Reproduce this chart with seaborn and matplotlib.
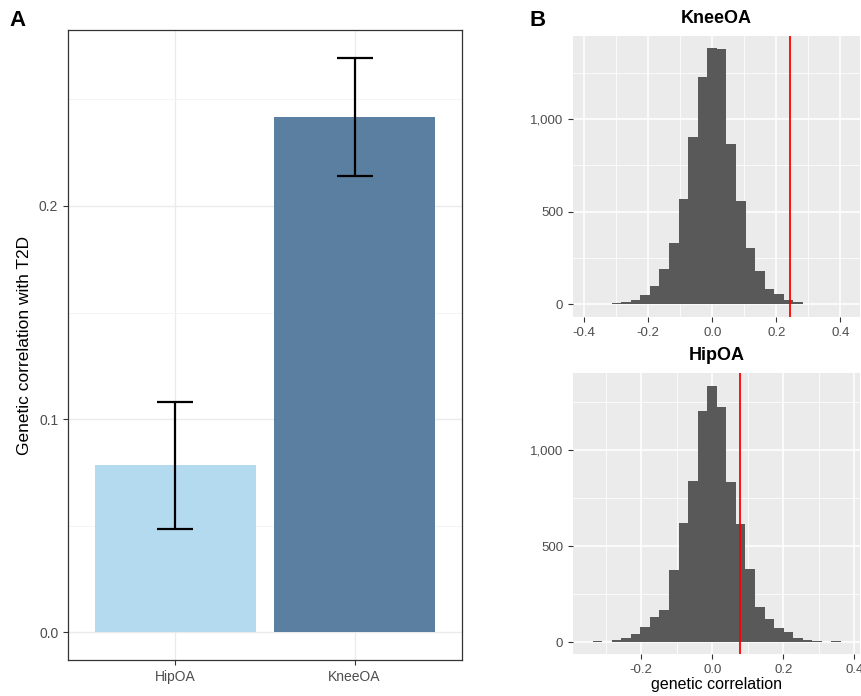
import numpy as np
import matplotlib
matplotlib.use("Agg")
import matplotlib.pyplot as plt
import seaborn as sns
import pandas as pd
from matplotlib.ticker import FuncFormatter, FixedLocator

# Panel A: genetic correlation with T2D
traits = ["HipOA", "KneeOA"]
rg = [0.0784, 0.2418]
rg_se = [0.0298, 0.0277]
bar_colors = ["#B4DAEF", "#5B7FA1"]

# Panel B: permutation null distributions (30 bins each, counts)
knee_bin_start = -0.434
knee_bin_width = 0.0299
knee_counts = [1, 1, 2, 4, 7, 12, 24, 48, 99, 190, 330, 570, 902, 1229, 1385,
               1380, 865, 558, 305, 182, 85, 58, 23, 11, 4, 2, 1, 0, 0, 1]

hip_bin_start = -0.3907
hip_bin_width = 0.0269
hip_counts = [1, 1, 3, 1, 10, 21, 43, 76, 130, 165, 375, 622, 841, 1203, 1335,
              1227, 833, 617, 379, 183, 122, 73, 52, 21, 12, 7, 2, 5, 1, 1]

plt.rcParams['font.family'] = ['Liberation Sans', 'DejaVu Sans']
plt.rcParams['axes.unicode_minus'] = False

fig = plt.figure(figsize=(8.62, 6.96), dpi=100)
axA = fig.add_axes([0.0789, 0.0517, 0.4571, 0.9052])
axK = fig.add_axes([0.6647, 0.5445, 0.3330, 0.4038])
axH = fig.add_axes([0.6647, 0.0603, 0.3330, 0.4042])

tick_col = "#4D4D4D"

# ---- A: bar chart (theme_bw look)
sns.barplot(x=traits, y=rg, hue=traits, palette=bar_colors, width=0.9,
            saturation=1, legend=False, ax=axA, zorder=2)
axA.errorbar(x=[0, 1], y=rg, yerr=rg_se, fmt='none', ecolor='black',
             elinewidth=1.6, capsize=13, capthick=1.6, zorder=3)
axA.set_xlim(-0.6, 1.6)
axA.set_ylim(-0.0131, 0.2826)
axA.set_yticks([0.0, 0.1, 0.2])
axA.set_yticklabels(["0.0", "0.1", "0.2"])
axA.yaxis.set_minor_locator(FixedLocator([0.05, 0.15, 0.25]))
axA.set_facecolor("white")
axA.grid(True, which='major', color="#EBEBEB", linewidth=1.0, zorder=0)
axA.grid(True, which='minor', axis='y', color="#F3F3F3", linewidth=0.6, zorder=0)
axA.set_axisbelow(True)
for s in axA.spines.values():
    s.set_color("#333333")
    s.set_linewidth(0.9)
axA.tick_params(axis='both', which='major', length=3.5, color="#333333",
                labelcolor=tick_col, labelsize=10)
axA.tick_params(axis='both', which='minor', length=0)
axA.set_xlabel("")
axA.set_ylabel("Genetic correlation with T2D", fontsize=12.5, labelpad=5)


# ---- B: histograms (theme_gray look)
def null_hist(ax, start, width, counts, obs, title, xlim, ylim, xticks, xminor):
    edges = [start + width * i for i in range(len(counts) + 1)]
    mids = [(edges[i] + edges[i + 1]) / 2 for i in range(len(counts))]
    df = pd.DataFrame({"rg": mids, "n": counts})
    sns.histplot(data=df, x="rg", weights="n", bins=edges, color="#595959",
                 alpha=1, edgecolor="none", linewidth=0, ax=ax, zorder=2)
    ax.axvline(obs, color="#FF0000", linewidth=1.3, zorder=3)
    ax.set_xlim(*xlim)
    ax.set_ylim(*ylim)
    ax.set_xticks(xticks)
    ax.set_xticklabels([f"{t:.1f}" for t in xticks])
    ax.xaxis.set_minor_locator(FixedLocator(xminor))
    ax.set_yticks([0, 500, 1000])
    ax.yaxis.set_major_formatter(FuncFormatter(lambda v, p: f"{int(v):,}"))
    ax.yaxis.set_minor_locator(FixedLocator([250, 750, 1250]))
    ax.set_facecolor("#EBEBEB")
    ax.grid(True, which='major', color="white", linewidth=1.1, zorder=0)
    ax.grid(True, which='minor', color="white", linewidth=0.55, zorder=0)
    ax.set_axisbelow(True)
    for s in ax.spines.values():
        s.set_visible(False)
    ax.tick_params(axis='both', which='major', length=3.5, color="#333333",
                   labelcolor=tick_col, labelsize=9.5)
    ax.tick_params(axis='both', which='minor', length=0)
    ax.set_ylabel("")
    ax.set_title(title, fontsize=13, fontweight='bold', pad=9)


null_hist(axK, knee_bin_start, knee_bin_width, knee_counts, rg[1], "KneeOA",
          (-0.435, 0.4616), (-69, 1450), [-0.4, -0.2, 0.0, 0.2, 0.4],
          [-0.3, -0.1, 0.1, 0.3])
axK.set_xlabel("")

null_hist(axH, hip_bin_start, hip_bin_width, hip_counts, rg[0], "HipOA",
          (-0.392, 0.416), (-62.6, 1405), [-0.2, 0.0, 0.2, 0.4],
          [-0.3, -0.1, 0.1, 0.3])
axH.set_xlabel("genetic correlation", fontsize=11.5, labelpad=1)

fig.text(0.011, 0.9705, "A", fontsize=16, fontweight='bold', va='center', ha='left')
fig.text(0.614, 0.9705, "B", fontsize=16, fontweight='bold', va='center', ha='left')

fig.savefig("out.png", dpi=100)
